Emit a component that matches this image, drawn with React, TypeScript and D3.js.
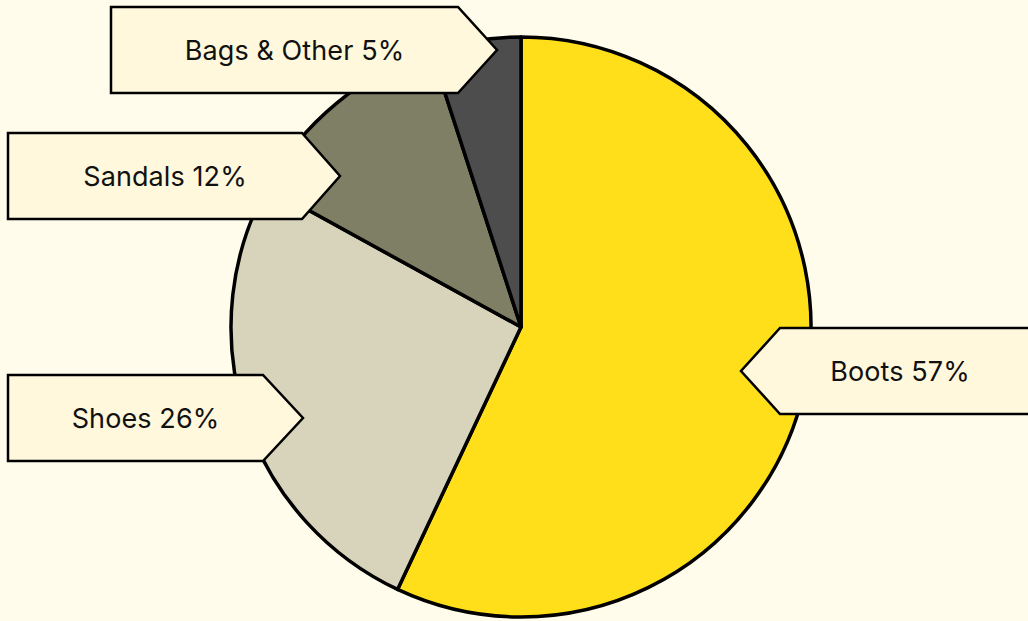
import React from "react";
import * as d3 from "d3";

const categories = ["Boots", "Shoes", "Sandals", "Bags & Other"];
const shares = [57, 26, 12, 5];
const sliceColors = ["#FFDE1A", "#D8D4BC", "#7F7F65", "#4D4D4D"];

// callout layout: tip point, flat edge, box far edge, vertical half-height
const callouts = [
  { tipX: 741, tipY: 371, flatX: 780, farX: 1040, half: 43 },
  { tipX: 303, tipY: 418, flatX: 263, farX: 8, half: 43 },
  { tipX: 340, tipY: 176, flatX: 302, farX: 8, half: 43 },
  { tipX: 497, tipY: 50, flatX: 458, farX: 111, half: 43 },
];

const W = 1028;
const H = 621;
const CX = 521;
const CY = 327;
const R = 290;

export default function App() {
  const pie = d3.pie<number>().sort(null).value((d) => d)(shares);
  const arc = d3.arc<d3.PieArcDatum<number>>().innerRadius(0).outerRadius(R);

  return (
    <svg
      width={W}
      height={H}
      style={{ position: "absolute", left: 0, top: 0, display: "block" }}
    >
      <rect x={0} y={0} width={W} height={H} fill="#FFFCEC" />
      <g transform={`translate(${CX},${CY})`}>
        {pie.map((p, i) => (
          <path
            key={i}
            d={arc(p) || ""}
            fill={sliceColors[i]}
            stroke="#000"
            strokeWidth={3.5}
            strokeLinejoin="round"
          />
        ))}
      </g>
      {callouts.map((c, i) => {
        const top = c.tipY - c.half;
        const bot = c.tipY + c.half;
        const d = `M${c.farX},${top} L${c.flatX},${top} L${c.tipX},${c.tipY} L${c.flatX},${bot} L${c.farX},${bot} Z`;
        const dir = c.tipX > c.flatX ? 1 : -1;
        const tx = (c.farX + c.flatX) / 2 + dir * 10;
        return (
          <g key={i}>
            <path d={d} fill="#FFF8DC" stroke="#000" strokeWidth={2.5} strokeLinejoin="miter" />
            <text
              x={tx}
              y={c.tipY + 3}
              textAnchor="middle"
              dominantBaseline="middle"
              fontFamily="Inter, 'Liberation Sans', sans-serif"
              fontSize={27}
              letterSpacing={0.1}
              fill="#111"
            >
              {`${categories[i]} ${shares[i]}%`}
            </text>
          </g>
        );
      })}
    </svg>
  );
}
